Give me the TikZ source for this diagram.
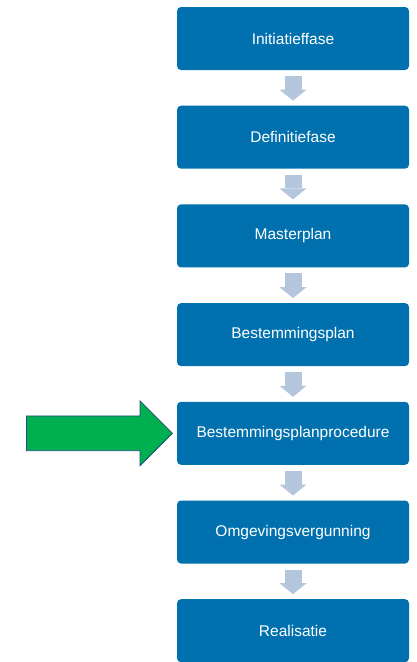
\documentclass[tikz,border=0pt]{standalone}
\usepackage{fontspec}
\setmainfont{Liberation Sans}
\usepackage{tikz}
\usetikzlibrary{arrows.meta,shapes.arrows,positioning}

\definecolor{phaseblue}{RGB}{0,113,174}
\definecolor{stepgray}{RGB}{180,198,220}
\definecolor{pointgreen}{RGB}{0,176,80}
\definecolor{pointrim}{RGB}{31,78,121}

\begin{document}
\begin{tikzpicture}[x=1pt,y=1pt,node distance=35.7pt,
    stepflow/.style={-{Triangle[width=27pt,length=11pt,line width=0pt]},color=stepgray,line width=17pt,shorten <=6pt,shorten >=5pt}]
  \tikzstyle{phase}=[rectangle,rounded corners=4pt,fill=phaseblue,draw=none,text=white,
    minimum width=232pt,minimum height=63pt,outer sep=0pt,font=\fontsize{15.5}{18}\selectfont]
  \useasboundingbox (0,0) rectangle (416,-662);
	\node[phase] (p_1) at (293,-38.5) {Initiatieffase};
	\node[phase, below=of p_1] (p_2) {Definitiefase};
	\node[phase, below=of p_2] (p_3) {Masterplan};
	\node[phase, below=of p_3] (p_4) {Bestemmingsplan};
	\node[phase, below=of p_4] (p_5) {Bestemmingsplanprocedure};
	\node[phase, below=of p_5] (p_6) {Omgevingsvergunning};
	\node[phase, below=of p_6] (p_7) {Realisatie};
	% current step
	\node[single arrow, fill=pointgreen, draw=pointrim, line width=0.8pt, inner xsep=0pt, inner ysep=17pt,
	  minimum height=146pt, single arrow head extend=15pt,
	  single arrow tip angle=90, left=4pt of p_5] (pointer) {};

	\path[stepflow]
	(p_1) edge (p_2)
	(p_2) edge (p_3)
	(p_3) edge (p_4)
	(p_4) edge (p_5)
	(p_5) edge (p_6)
	(p_6) edge (p_7);
\end{tikzpicture}
\end{document}
